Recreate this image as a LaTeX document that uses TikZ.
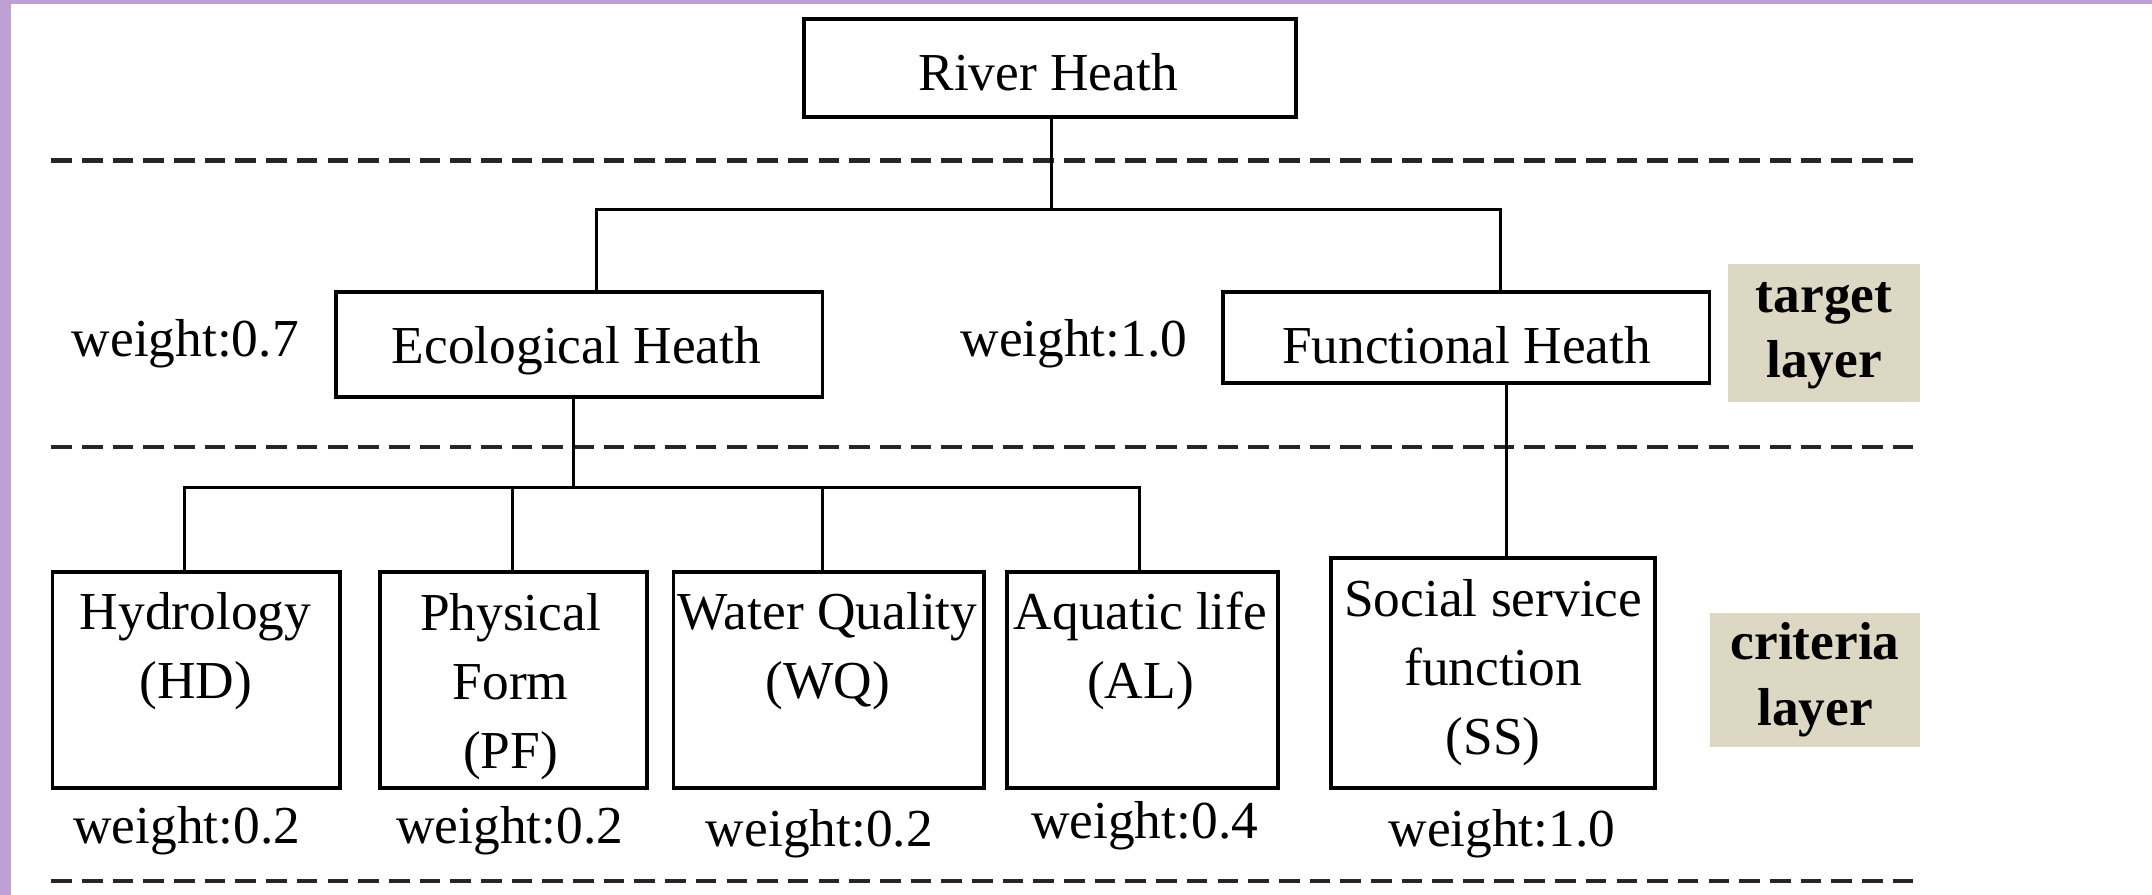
\documentclass[tikz,border=0pt]{standalone}
\usepackage{fontspec}
\setmainfont{Liberation Serif}
\usetikzlibrary{fit}
\definecolor{purp}{RGB}{190,160,212}
\definecolor{layerbg}{RGB}{221,216,196}
\begin{document}
\begin{tikzpicture}[x=0.36pt,y=-0.36pt,
  box/.style={draw, line width=1pt, inner sep=0pt},
  layerbox/.style={fill=layerbg, draw=none, inner sep=0pt},
  conn/.style={line width=0.8pt},
  sep/.style={line width=1.1pt, dash pattern=on 5.4pt off 2.65pt, draw=black!85},
  txt/.style={font=\fontsize{14}{18.1}\selectfont, inner sep=0pt, anchor=base, align=center},
  ltxt/.style={font=\fontsize{14}{17.1}\selectfont\bfseries, inner sep=0pt, anchor=base, align=center}]
\useasboundingbox (0,0) rectangle (1568,652);
\fill[white] (0,0) rectangle (1568,652);
\fill[purp] (0,0) rectangle (8,652);
\fill[purp] (0,0) rectangle (1568,2.9);

% separators
\coordinate (s1l) at (37.4,117); \coordinate (s1r) at (1398,117);
\coordinate (s2l) at (37.4,325.5); \coordinate (s2r) at (1398,325.5);
\coordinate (s3l) at (37.4,642); \coordinate (s3r) at (1398,642);
\draw[sep] (s1l) -- (s1r);
\draw[sep] (s2l) -- (s2r);
\draw[sep] (s3l) -- (s3r);

% layer labels (anchor = baseline of last line)
\node[layerbox, fit={(1259,192) (1399,293)}] (tl) {};
\node[layerbox, fit={(1246,447) (1399,544)}] (cl) {};
\node[ltxt] (tlt) at (1329,275) {target\\layer};
\node[ltxt] (clt) at (1322.5,528.3) {criteria\\layer};

% boxes
\node[box, fit={(586,14) (944,85)}] (rh) {};
\node[box, fit={(244.6,213) (599.3,289)}] (eco) {};
\node[box, fit={(891,213) (1245.5,279)}] (fun) {};
\node[box, fit={(38.3,417) (247.9,574.4)}] (hd) {};
\node[box, fit={(277,417) (471.3,574.4)}] (pf) {};
\node[box, fit={(490.7,417) (717.2,574.4)}] (wq) {};
\node[box, fit={(734,417) (931,574.4)}] (al) {};
\node[box, fit={(970,406.8) (1206,574.4)}] (ss) {};

% box texts (anchor = baseline of last line)
\node[txt] (rht) at (763.7,65.6) {River Heath};
\node[txt] (ecot) at (420,264.7) {Ecological Heath};
\node[txt] (funt) at (1068.6,264.7) {Functional Heath};
\node[txt] (hdt) at (142.5,509) {Hydrology\\(HD)};
\node[txt] (pft) at (372,560) {Physical\\Form\\(PF)};
\node[txt] (wqt) at (603,509) {Water Quality\\(WQ)};
\node[txt] (alt) at (831,509) {Aquatic life\\(AL)};
\node[txt] (sst) at (1088,549.5) {Social service\\function\\(SS)};

% weights
\node[txt] (w1) at (135,260) {weight:0.7};
\node[txt] (w2) at (782.5,260) {weight:1.0};
\node[txt] (w3) at (136,614.5) {weight:0.2};
\node[txt] (w4) at (371.4,614.5) {weight:0.2};
\node[txt] (w5) at (597,617) {weight:0.2};
\node[txt] (w6) at (834,610.6) {weight:0.4};
\node[txt] (w7) at (1094.3,617) {weight:1.0};

% connectors
\coordinate (j1) at (766,152.6);
\coordinate (j1l) at (434.5,152.6);
\coordinate (j1r) at (1093,152.6);
\draw[conn] (rh.south -| j1) -- (j1);
\draw[conn] (eco.north -| j1l) -- (j1l) -- (j1r) -- (fun.north -| j1r);
\coordinate (j2) at (417.6,355.4);
\coordinate (j2l) at (134.4,355.4);
\coordinate (j2r) at (830,355.4);
\coordinate (b2) at (373.2,355.4);
\coordinate (b3) at (599,355.4);
\draw[conn] (eco.south -| j2) -- (j2);
\draw[conn] (hd.north -| j2l) -- (j2l) -- (j2r) -- (al.north -| j2r);
\draw[conn] (b2) -- (pf.north -| b2);
\draw[conn] (b3) -- (wq.north -| b3);
\coordinate (f1) at (1098,300);
\draw[conn] (fun.south -| f1) -- (ss.north -| f1);
\end{tikzpicture}
\end{document}
